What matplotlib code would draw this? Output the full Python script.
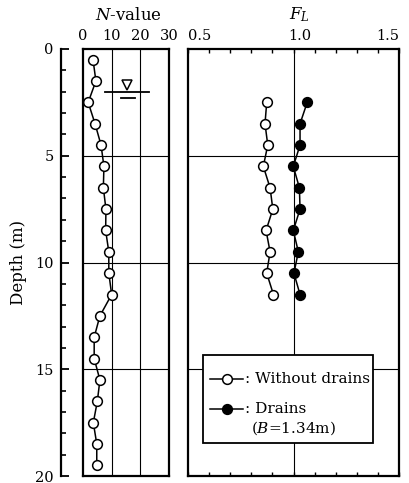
import matplotlib
matplotlib.use("Agg")
import matplotlib.pyplot as plt
from matplotlib.patches import Rectangle
from matplotlib.ticker import MultipleLocator
from matplotlib.lines import Line2D
from matplotlib.transforms import ScaledTranslation

plt.rcParams["font.family"] = ["DejaVu Serif"]
plt.rcParams["mathtext.fontset"] = "dejavuserif"

# SPT N-value profile
n_depth = [0.5, 1.5, 2.5, 3.5, 4.5, 5.5, 6.5, 7.5, 8.5, 9.5,
           10.5, 11.5, 12.5, 13.5, 14.5, 15.5, 16.5, 17.5, 18.5, 19.5]
n_value = [3.5, 4.5, 1.8, 4.2, 6.3, 7.3, 7.1, 8.0, 7.9, 9.0,
           9.0, 10.0, 5.9, 3.9, 3.9, 5.9, 5.0, 3.6, 4.8, 4.8]

# Liquefaction resistance factor FL
fl_depth = [2.5, 3.5, 4.5, 5.5, 6.5, 7.5, 8.5, 9.5, 10.5, 11.5]
fl_without = [0.873, 0.865, 0.878, 0.857, 0.889, 0.902, 0.870, 0.889, 0.873, 0.905]
fl_drains = [1.065, 1.031, 1.031, 0.999, 1.028, 1.031, 0.999, 1.023, 1.002, 1.031]

water_table = 2.0
n_ticks = [0, 10, 20, 30]
fl_ticks = [0.5, 1.0, 1.5]
depth_ticks = [0, 5, 10, 15, 20]

W, H = 409, 483
fig = plt.figure(figsize=(W / 100, H / 100), dpi=100)

def px_rect(x0, y0, x1, y1):
    return [x0 / W, 1 - y1 / H, (x1 - x0) / W, (y1 - y0) / H]

ax1 = fig.add_axes(px_rect(83, 49, 169, 476))
ax2 = fig.add_axes(px_rect(188, 49, 399, 476))

box_lw = 1.6
grid_lw = 0.8
mk = dict(marker="o", ms=7, mew=1.1, color="black", lw=1.1)

# ---- left panel: N-value ----
ax1.set_xlim(0, 30)
ax1.set_ylim(20, 0)
for v in (10, 20):
    ax1.axvline(v, color="black", lw=grid_lw)
for d in (5, 10, 15):
    ax1.axhline(d, color="black", lw=grid_lw)
ax1.plot(n_value, n_depth, mfc="white", mec="black", zorder=5, **mk)

# water table symbol
ax1.plot([7.7, 23.0], [water_table, water_table], color="black", lw=1.3)
ax1.plot([13.3, 18.0], [water_table + 0.3, water_table + 0.3], color="black", lw=1.3)
ax1.plot([15.3], [water_table - 0.3], marker="v", ms=7, mfc="white",
         mec="black", mew=1.1, ls="none")

ax1.xaxis.set_ticks_position("top")
ax1.xaxis.set_label_position("top")
ax1.set_xticks(n_ticks)
ax1.tick_params(axis="x", which="both", length=0, pad=4, labelsize=10.5)
ax1.set_yticks(depth_ticks)
ax1.yaxis.set_minor_locator(MultipleLocator(1))
ax1.spines["left"].set_position(("outward", 16))
ax1.spines["left"].set_bounds(0, 20)
ax1.tick_params(axis="y", which="major", direction="in", length=6, width=1.3,
                labelsize=10.5, pad=5)
ax1.tick_params(axis="y", which="minor", direction="in", length=3.5, width=1.2)
for s in ax1.spines.values():
    s.set_linewidth(box_lw)
ax1.plot([0, 0], [0, 20], color="black", lw=box_lw, clip_on=False, zorder=6)
ax1.set_ylabel("Depth (m)", fontsize=12, labelpad=6)

# ---- right panel: FL ----
ax2.set_xlim(0.5, 1.5)
ax2.set_ylim(20, 0)
ax2.axvline(1.0, color="black", lw=grid_lw)
for d in (5, 10, 15):
    ax2.axhline(d, color="black", lw=grid_lw)
ax2.plot(fl_without, fl_depth, mfc="white", mec="black", zorder=5, **mk)
ax2.plot(fl_drains, fl_depth, mfc="black", mec="black", zorder=5, **mk)

ax2.xaxis.set_ticks_position("both")
ax2.set_xticks(fl_ticks)
ax2.xaxis.set_minor_locator(MultipleLocator(0.1))
ax2.tick_params(axis="x", which="both", direction="in", length=3, width=1.0,
                top=True, bottom=True, labeltop=True, labelbottom=False,
                labelsize=10.5, pad=4)
ax2.set_yticks([])
for s in ax2.spines.values():
    s.set_linewidth(box_lw)

# keep the end labels inside the panel width
top_labels = [t.label2 for t in ax2.xaxis.get_major_ticks()]
top_labels[0].set_horizontalalignment("left")
top_labels[1].set_transform(top_labels[1].get_transform()
                            + ScaledTranslation(0.06, 0, fig.dpi_scale_trans))
top_labels[2].set_horizontalalignment("right")

# legend drawn in data coordinates of the FL panel
ax2.add_patch(Rectangle((0.571, 14.35), 0.806, 4.11, facecolor="white",
                        edgecolor="black", lw=1.3, zorder=7))
rows = [(15.47, "white", ": Without drains"), (16.87, "black", ": Drains")]
for y, fc, label in rows:
    ax2.add_line(Line2D([0.604, 0.761], [y, y], color="black", lw=1.1, zorder=8))
    ax2.add_line(Line2D([0.683], [y], marker="o", ms=7, mfc=fc, mec="black",
                        mew=1.1, zorder=9))
    ax2.text(0.768, y, label, fontsize=11, va="center", ha="left", zorder=9)
ax2.text(0.80, 17.75, r"($\mathit{B}$=1.34m)", fontsize=11, va="center",
         ha="left", zorder=9)

# panel titles
fig.text(128 / W, 1 - 15 / H, r"$\mathit{N}$-value", fontsize=12,
         ha="center", va="center")
fig.text(299 / W, 1 - 15 / H, r"$\mathit{F}_{\mathit{L}}$", fontsize=12,
         ha="center", va="center")

fig.savefig("out.png", dpi=100)
